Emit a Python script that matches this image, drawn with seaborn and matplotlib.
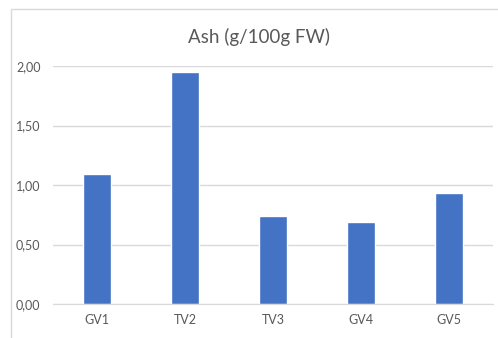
import pandas as pd
import seaborn as sns
import matplotlib.pyplot as plt
from matplotlib.patches import Rectangle
from matplotlib.ticker import FuncFormatter

# Ash content per sample
amostras = ['GV1', 'TV2', 'TV3', 'GV4', 'GV5']
cinzas = [1.09, 1.95, 0.74, 0.69, 0.93]

df = pd.DataFrame({'amostra': amostras, 'cinza': cinzas})

sns.set_style('white')
plt.rcParams['font.family'] = ['Lato', 'DejaVu Sans']

fig = plt.figure(figsize=(4.98, 3.38), dpi=100)
ax = fig.add_axes([53 / 498, 1 - 304 / 338, 440 / 498, 238 / 338])

sns.barplot(data=df, x='amostra', y='cinza', color='#4472C4', width=0.32,
            saturation=1, ax=ax, zorder=3)

ax.set_ylim(0, 2.0)
ax.set_yticks([0, 0.5, 1.0, 1.5, 2.0])
ax.yaxis.set_major_formatter(FuncFormatter(lambda v, p: f"{v:.2f}".replace('.', ',')))
ax.grid(axis='y', color='#D9D9D9', linewidth=1, zorder=0)
ax.set_xlabel('')
ax.set_ylabel('')
for s in ['top', 'right', 'left']:
    ax.spines[s].set_visible(False)
ax.spines['bottom'].set_color('#D9D9D9')
ax.spines['bottom'].set_zorder(4)
ax.tick_params(axis='both', length=0, colors='#595959', labelsize=9)
ax.tick_params(axis='y', pad=9)
ax.tick_params(axis='x', pad=7)

fig.text(0.52, 1 - 37 / 338, 'Ash (g/100g FW)', ha='center', va='center',
         fontsize=13.5, color='#595959')

# chart frame like in Excel
fig.patches.append(Rectangle((10.5 / 498, -0.01), 1.0, 1 - 8.5 / 338 + 0.01,
                             transform=fig.transFigure, fill=False,
                             edgecolor='#D9D9D9', linewidth=1))

fig.savefig('out.png', dpi=100)
